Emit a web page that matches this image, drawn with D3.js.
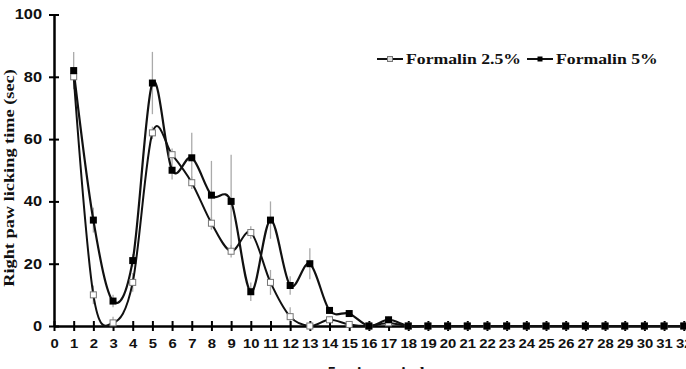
<!DOCTYPE html>
<html>
<head>
<meta charset="utf-8">
<script src="https://cdn.jsdelivr.net/npm/d3@7"></script>
<style>
  body { margin: 0; background: #fff; }
  svg { display: block; font-family: "Liberation Serif", "Times New Roman", serif; font-weight: bold; }
</style>
</head>
<body>
<div id="chart"></div>
<script>
// periods 1..32
const periods = d3.range(1, 33)
const seriesNames = ["Formalin 2.5%", "Formalin 5%"]
const low = [80, 10, 1, 14, 62, 55, 46, 33, 24, 30, 14, 3, 0, 2, 0.5, 0, 1,
  0, 0, 0, 0, 0, 0, 0, 0, 0, 0, 0, 0, 0, 0, 0]
const lowErr = [3, 3, 2, 3, 2, 2, 2, 2, 2, 2, 4, 3, 0, 1, 0, 0, 0,
  0, 0, 0, 0, 0, 0, 0, 0, 0, 0, 0, 0, 0, 0, 0]
const high = [82, 34, 8, 21, 78, 50, 54, 42, 40, 11, 34, 13, 20, 5, 4, 0, 2,
  0, 0, 0, 0, 0, 0, 0, 0, 0, 0, 0, 0, 0, 0, 0]
const highErr = [6, 4, 2, 2, 10, 3, 8, 11, 15, 3, 6, 3, 5, 1, 1, 0, 1,
  0, 0, 0, 0, 0, 0, 0, 0, 0, 0, 0, 0, 0, 0, 0]
const yTicks = [0, 20, 40, 60, 80, 100]
const xTicks = d3.range(0, 33)

const width = 686
const height = 369
const marginLeft = 54
const marginTop = 14.5
const bottomY = 326
const stretch = 1.17   // the source picture is a bit wider than it is tall

const svg = d3.select("#chart").append("svg")
    .attr("width", width)
    .attr("height", height)

const x = d3.scaleLinear([0, 32], [marginLeft, marginLeft + 32 * 19.68])
const y = d3.scaleLinear([0, 100], [bottomY, marginTop])

// widen a text the way the source is widened
const widen = (sel, k = stretch) => sel.each(function () {
    const len = this.getComputedTextLength()
    d3.select(this).attr("textLength", len * k).attr("lengthAdjust", "spacingAndGlyphs")
})

// error bars
const errData = [
    { v: low, e: lowErr },
    { v: high, e: highErr }
]
errData.forEach(s => {
    svg.append("g")
        .attr("stroke", "#aaa")
        .attr("stroke-width", 1.3)
        .selectAll("line")
        .data(periods.filter((p, i) => s.e[i] > 0))
        .join("line")
        .attr("x1", p => x(p))
        .attr("x2", p => x(p))
        .attr("y1", p => y(s.v[p - 1] + s.e[p - 1]))
        .attr("y2", p => y(Math.max(0, s.v[p - 1] - s.e[p - 1])))
})

// y axis
const yAxis = d3.axisLeft(y).tickValues(yTicks).tickSize(5).tickSizeOuter(0)
svg.append("g")
    .attr("transform", `translate(${marginLeft},0)`)
    .call(yAxis)
    .call(g => g.select(".domain").attr("stroke", "#000").attr("stroke-width", 2.5))
    .call(g => g.selectAll(".tick line").attr("x1", 5).attr("x2", -5).attr("stroke-width", 2))
    .call(g => g.selectAll(".tick text").attr("x", -12).attr("font-size", 14).attr("fill", "#111").call(widen))

// x axis
const xAxis = d3.axisBottom(x).tickValues(xTicks).tickSize(5).tickSizeOuter(0)
svg.append("g")
    .attr("transform", `translate(0,${bottomY})`)
    .call(xAxis)
    .call(g => g.select(".domain").attr("stroke", "#000").attr("stroke-width", 2.5))
    .call(g => g.selectAll(".tick line").attr("y1", -5).attr("y2", 5).attr("stroke-width", 2))
    .call(g => g.selectAll(".tick text").attr("y", 12).attr("font-size", 13.5).attr("fill", "#111").call(widen, 1.1))

// lines
const line = d3.line()
    .x((d, i) => x(periods[i]))
    .y(d => y(d))
    .curve(d3.curveCardinal.tension(0))

svg.append("path")
    .datum(low)
    .attr("fill", "none")
    .attr("stroke", "#111")
    .attr("stroke-width", 2)
    .attr("d", line)

svg.append("path")
    .datum(high)
    .attr("fill", "none")
    .attr("stroke", "#111")
    .attr("stroke-width", 2.2)
    .attr("d", line)

// markers
svg.append("g")
    .selectAll("rect")
    .data(periods)
    .join("rect")
    .attr("x", p => x(p) - 3)
    .attr("y", (p, i) => y(low[i]) - 3)
    .attr("width", 6)
    .attr("height", 6)
    .attr("fill", "#fff")
    .attr("stroke", "#777")
    .attr("stroke-width", 1)

svg.append("g")
    .selectAll("rect")
    .data(periods)
    .join("rect")
    .attr("x", p => x(p) - 3.5)
    .attr("y", (p, i) => y(high[i]) - 3.5)
    .attr("width", 7)
    .attr("height", 7)
    .attr("fill", "#000")

// axis titles
svg.append("text")
    .attr("transform", `translate(14,178) rotate(-90)`)
    .attr("text-anchor", "middle")
    .attr("font-size", 15)
    .attr("fill", "#111")
    .text("Right paw licking time (sec)")
    .call(widen, 1.22)

svg.append("text")
    .attr("x", 376)
    .attr("y", 377)
    .attr("text-anchor", "middle")
    .attr("font-size", 15)
    .attr("fill", "#111")
    .text("5-min period")
    .call(widen)

// legend
const legend = svg.append("g").attr("transform", "translate(377,59)")
const legendX = [0, 150]
seriesNames.forEach((name, i) => {
    const g = legend.append("g").attr("transform", `translate(${legendX[i]},0)`)
    g.append("line").attr("x1", 0).attr("x2", 26).attr("stroke", "#111").attr("stroke-width", 2)
    if (i === 0) {
        g.append("rect").attr("x", 10.5).attr("y", -2.5).attr("width", 5).attr("height", 5)
            .attr("fill", "#ddd").attr("stroke", "#777")
    } else {
        g.append("rect").attr("x", 10.5).attr("y", -2.5).attr("width", 5).attr("height", 5).attr("fill", "#000")
    }
    g.append("text").attr("x", 29).attr("y", 5).attr("font-size", 15).attr("fill", "#111").text(name)
        .call(widen, 1.18)
})
</script>
</body>
</html>
